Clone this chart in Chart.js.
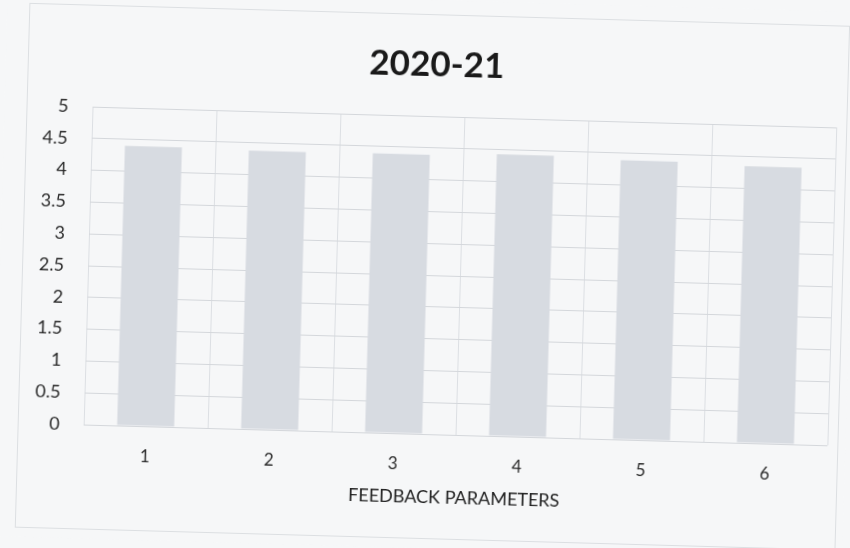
<!DOCTYPE html>
<html>
<head>
<meta charset="utf-8">
<script src="https://cdn.jsdelivr.net/npm/chart.js@4.4.1/dist/chart.umd.min.js"></script>
<style>
  html, body { margin: 0; padding: 0; background: #f6f7f8; overflow: hidden; }
  #myChart { display: block; transform: rotate(1.6deg); transform-origin: 425px 274px; }
</style>
</head>
<body>
<canvas id="myChart" width="850" height="548"></canvas>
<script>
  const categories = ['1', '2', '3', '4', '5', '6'];
  const scores = [4.4, 4.38, 4.39, 4.43, 4.39, 4.35];
  const yTicks = [0, 0.5, 1, 1.5, 2, 2.5, 3, 3.5, 4, 4.5, 5];

  // faint frame of the scanned chart box
  const frame = {
    id: 'frame',
    beforeDraw(chart) {
      const c = chart.ctx;
      c.save();
      c.fillStyle = '#f6f7f8';
      c.fillRect(0, 0, chart.width, chart.height);
      c.strokeStyle = '#dcdfe2';
      c.lineWidth = 1;
      c.strokeRect(22.5, 14.5, 820, 524);
      c.restore();
    }
  };

  const ctx = document.getElementById('myChart').getContext('2d');
  const myChart = new Chart(ctx, {
    type: 'bar',
    data: {
      labels: categories,
      datasets: [{
        label: 'Score',
        data: scores,
        backgroundColor: '#d7dbe1',
        borderWidth: 0,
        barPercentage: 0.46,
        categoryPercentage: 1
      }]
    },
    plugins: [frame],
    options: {
      responsive: false,
      animation: false,
      layout: { padding: { left: 30, right: 18, top: 44, bottom: 40 } },
      plugins: {
        legend: { display: false },
        tooltip: { enabled: false },
        title: {
          display: true,
          text: '2020-21',
          color: '#1a1a1a',
          font: { family: 'Lato', size: 35, weight: 'bold' },
          padding: { top: 0, bottom: 30 }
        }
      },
      scales: {
        x: {
          offset: true,
          grid: { color: '#dcdfe3', drawTicks: false, offset: true },
          border: { display: false },
          ticks: { color: '#2a2a2a', font: { family: 'Lato', size: 17 }, padding: 20 },
          title: {
            display: true,
            text: 'FEEDBACK PARAMETERS',
            color: '#222',
            font: { family: 'Lato', size: 18 },
            padding: { top: -8, bottom: 0 }
          }
        },
        y: {
          min: 0,
          max: 5,
          afterBuildTicks(scale) { scale.ticks = yTicks.map(v => ({ value: v })); },
          afterFit(scale) { scale.width = 58; },
          grid: { color: '#d4d7db', drawTicks: false },
          border: { display: false },
          ticks: {
            color: '#2a2a2a',
            font: { family: 'Lato', size: 18 },
            padding: 24,
            callback: v => String(v)
          }
        }
      }
    }
  });
</script>
</body>
</html>
